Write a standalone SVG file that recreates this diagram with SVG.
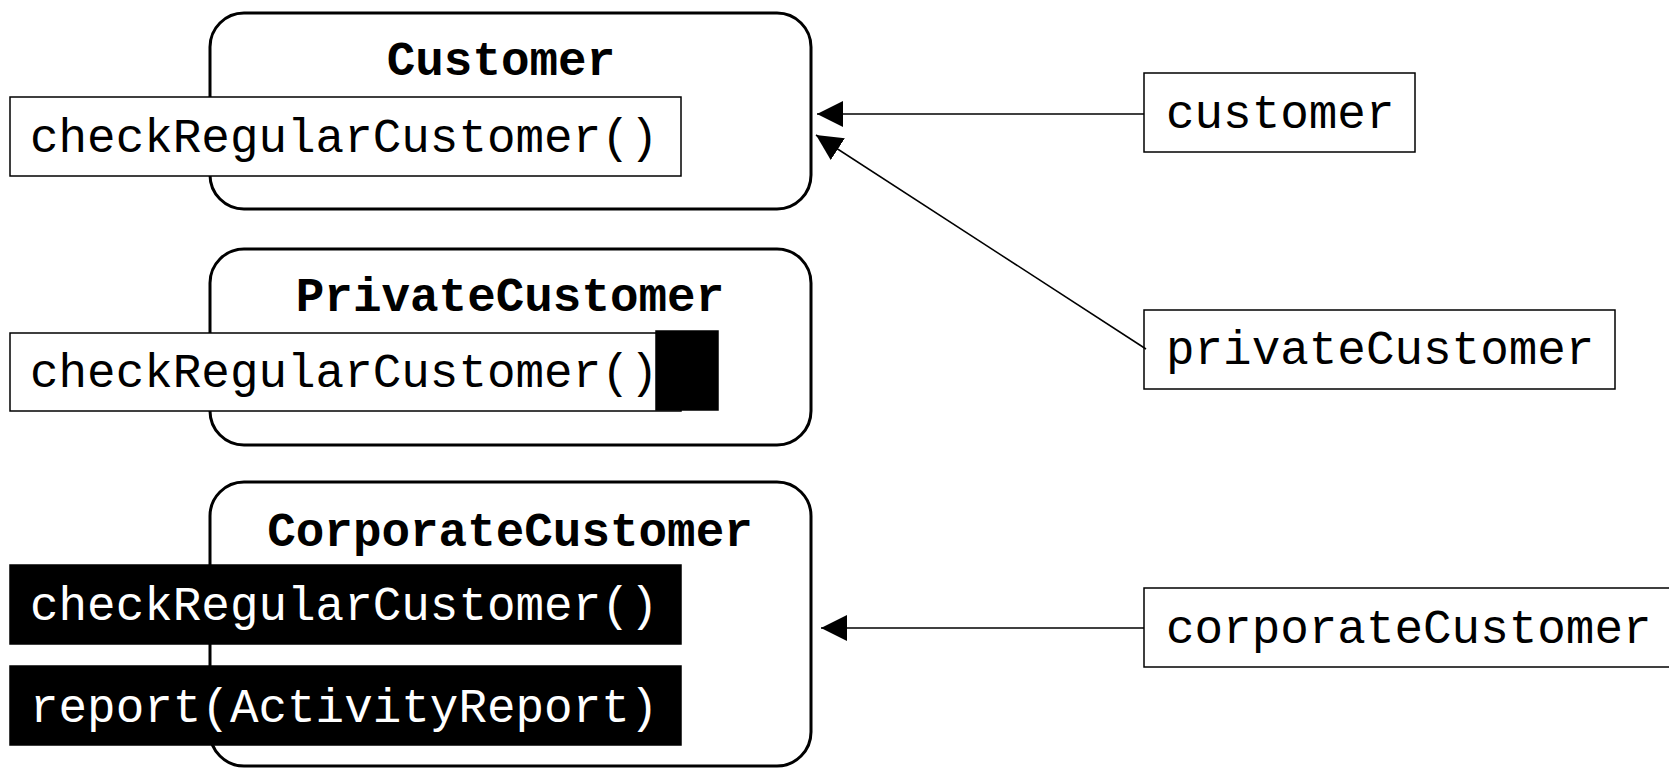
<svg xmlns="http://www.w3.org/2000/svg" width="1669" height="769" viewBox="0 0 1669 769">
<defs>
<style>
.cls{fill:#fff;stroke:#000;stroke-width:3}
.box{fill:#fff;stroke:#000;stroke-width:1.5}
.blk{fill:#000;stroke:#000;stroke-width:1.5}
.title{font-family:"Liberation Mono","Courier New",monospace;font-weight:bold;font-size:47.6px;fill:#000;text-anchor:middle}
.txt{font-family:"Liberation Mono","Courier New",monospace;font-size:47.6px;fill:#000}
.wtxt{font-family:"Liberation Mono","Courier New",monospace;font-size:47.6px;fill:#fff}
.conn{stroke:#000;stroke-width:1.5;fill:none}
</style>
<marker id="arr" markerUnits="userSpaceOnUse" markerWidth="28" markerHeight="28" refX="26" refY="13" orient="auto">
<path d="M0,0 L26,13 L0,26 z" fill="#000"/>
</marker>
</defs>
<rect width="1669" height="769" fill="#fff"/>
<g id="customer-class">
<rect class="cls" x="210" y="13" width="601" height="196" rx="34" ry="34"/>
<text class="title" x="501" y="75">Customer</text>
<rect class="box" x="10" y="97" width="671" height="79"/>
<text class="txt" x="30" y="152">checkRegularCustomer()</text>
</g>
<g id="private-customer-class">
<rect class="cls" x="210" y="249" width="601" height="196" rx="34" ry="34"/>
<text class="title" x="510" y="311">PrivateCustomer</text>
<rect class="box" x="10" y="333" width="671" height="78"/>
<text class="txt" x="30" y="387">checkRegularCustomer()</text>
<rect class="blk" x="656" y="331" width="62" height="79"/>
</g>
<g id="corporate-customer-class">
<rect class="cls" x="210" y="482" width="601" height="284" rx="34" ry="34"/>
<text class="title" x="510" y="546">CorporateCustomer</text>
<rect class="blk" x="10" y="565" width="671" height="79"/>
<text class="wtxt" x="30" y="620">checkRegularCustomer()</text>
<rect class="blk" x="10" y="666" width="671" height="79"/>
<text class="wtxt" x="30" y="722">report(ActivityReport)</text>
</g>
<g id="customer-obj">
<rect class="box" x="1144" y="73" width="271" height="79"/>
<text class="txt" x="1166" y="128">customer</text>
</g>
<g id="private-customer-obj">
<rect class="box" x="1144" y="310" width="471" height="79"/>
<text class="txt" x="1166" y="364">privateCustomer</text>
</g>
<g id="corporate-customer-obj">
<rect class="box" x="1144" y="588" width="540" height="79"/>
<text class="txt" x="1166" y="643">corporateCustomer</text>
</g>
<g id="connectors">
<line class="conn" x1="1144" y1="114" x2="817" y2="114" marker-end="url(#arr)"/>
<line class="conn" x1="1146" y1="349" x2="816" y2="135" marker-end="url(#arr)"/>
<line class="conn" x1="1144" y1="628" x2="821" y2="628" marker-end="url(#arr)"/>
</g>
</svg>
